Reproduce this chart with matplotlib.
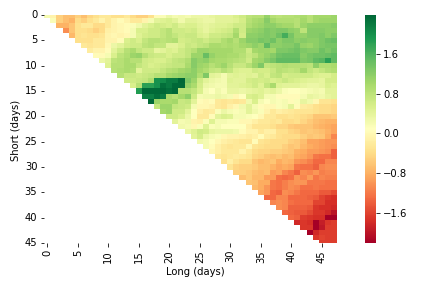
import numpy as np
import matplotlib
matplotlib.use('Agg')
import matplotlib.pyplot as plt
import seaborn as sns

# upper triangle, each row starts on the diagonal
rows = [
 [.1,-.15,-.55,-.7,-.7,-.55,-.7,-.5,-.4,-.3,-.3,-.4,-.4,-.3,-.45,-.55,-.55,-.4,-.05,.05,.2,.1,.15,.1,
  .2,.2,.2,.25,.3,.3,.3,.4,.5,.65,.7,.7,.95,.7,.65,.7,.7,.75,.8,.7,.85,.85,.85,.9],
 [.05,-.55,-.7,-.8,-.45,-.55,-.4,-.3,-.15,-.3,-.15,-.05,-.15,-.3,-.3,-.15,.1,.3,.35,.4,.3,.15,.3,
  .3,.25,.2,.2,.3,.3,.3,.35,.45,.7,.8,.85,1.05,.85,.75,.75,.75,.7,.85,.7,.85,.9,.9,.9],
 [-.8,-.8,-.65,-.4,-.3,-.3,-.45,-.45,-.3,-.15,-.1,-.05,.05,.15,.3,.4,.5,.45,.4,.5,.35,.4,
  .4,.3,.25,.3,.35,.35,.4,.5,.5,.75,.85,.9,1.0,1.0,.9,.85,.85,.7,.9,1.0,1.0,1.0,1.0,1.05],
 [-1.05,-.65,-.4,-.4,-.45,-.55,-.45,-.2,-.15,-.1,-.05,.1,.4,.4,.5,.5,.6,.7,.5,.5,.45,
  .5,.35,.25,.35,.4,.45,.5,.75,.5,.9,.95,1.0,1.1,1.05,1.1,1.1,1.0,.95,.65,1.05,1.05,1.05,1.0,1.0],
 [-.75,-.4,-.35,-.4,-.4,-.35,-.15,-.1,-.15,-.1,.1,.35,.45,.5,.5,.6,.7,.6,.5,.55,
  .55,.4,.35,.5,.5,.55,.6,.85,.45,1.0,1.0,1.05,1.1,1.05,1.2,1.45,1.15,.95,.95,1.05,1.05,1.1,1.0,1.1],
 [-.4,-.4,-.4,-.3,-.3,-.15,-.15,-.05,.4,.5,.4,.6,.7,.7,.65,.7,.75,.45,.5,
  .55,.6,.5,.6,.6,.75,.85,.7,.9,1.05,1.05,1.15,1.1,1.2,1.0,1.1,1.1,1.0,1.05,1.0,1.0,1.1,1.2,1.25],
 [-.3,-.35,-.3,-.3,-.1,.2,.3,.45,.5,.5,.65,.7,.6,.6,.3,.3,.4,.55,
  .5,.6,.65,.8,.8,.75,.8,.75,.85,.9,1.0,.9,1.3,1.0,1.0,1.05,1.05,1.15,.95,.9,1.0,1.1,1.15,1.15],
 [-.25,-.15,-.15,-.05,.3,.5,.7,.8,.6,.5,.5,.25,.3,.4,.35,.5,.6,
  .7,.9,.9,.85,.85,.85,.85,.75,.75,.5,.85,.9,.9,.85,1.1,1.1,1.15,1.2,1.1,1.05,1.05,1.2,1.1,1.2],
 [-.05,-.08,.1,.4,.65,.75,.9,.95,.7,.55,.5,.5,.4,.5,.5,.6,
  .9,.9,1.25,.95,.85,.85,.8,.8,.7,.55,.65,.85,.95,1.05,1.2,1.25,1.25,1.25,1.05,1.15,1.2,1.2,1.25,1.3],
 [.2,.3,.65,.7,.8,.7,.7,.5,.45,.4,.4,.5,.6,.65,.75,
  1.05,.95,1.0,.85,.8,.8,.75,.7,.65,.5,.85,.9,1.05,1.15,1.3,1.3,1.3,1.3,1.1,1.15,1.3,1.35,1.6,1.3],
 [.35,.7,.7,.8,.8,.6,.5,.4,.45,.5,.55,.6,.6,.8,
  1.05,.9,.85,.7,.8,.9,.7,.55,.55,.7,.9,1.1,.6,.65,.7,.75,.7,.7,.7,.65,1.0,.75,.75,.8],
 [.7,.75,.8,.75,.3,.5,.5,.5,.6,.7,.75,.85,.9,
  1.0,.85,.75,.6,.55,.7,.6,.4,.35,.35,.5,.45,.45,.55,.7,.65,.6,.65,.85,.6,.5,.6,.7,.75],
 [.7,.55,.55,.5,.55,.6,.7,.7,.85,.9,.95,1.0,
  1.0,.75,1.1,.3,.25,.1,.3,.35,.3,.35,.3,.5,.4,.6,.65,.45,.5,.5,.5,.5,.4,.35,.35,.45],
 [.5,.5,.55,.6,.75,1.75,1.8,1.95,1.95,2.15,1.1,
  .9,.5,.3,.2,.15,.1,.35,.3,.3,.45,.5,.45,.5,.4,.45,.55,.45,.4,.35,.3,.3,.25,.45,.45],
 [.4,.7,1.6,1.6,1.75,2.05,1.95,2.1,2.1,.95,
  .8,.45,.2,.15,.1,.1,.3,.3,.35,.4,.5,.35,.6,.8,.35,.3,.3,.3,.25,.2,.2,.25,.4,.35],
 [1.65,2.1,2.1,2.1,2.2,2.05,2.15,.7,.7,
  .6,.4,.1,0,.15,.05,.25,.25,.2,.25,.3,.35,.25,.3,.2,.05,0,0,.05,.1,.15,.1,.3,.3],
 [1.9,1.9,2.05,1.95,.8,.7,.85,1.0,
  .5,.1,.15,.15,.2,.15,.1,-.1,0,.4,.45,.35,.1,.1,-.05,-.05,-.05,-.05,.1,.25,.2,.15,.25,.3],
 [2.3,.9,.8,.8,.85,.55,.6,
  .3,-.05,-.1,-.05,-.3,-.35,-.3,-.35,-.3,.15,.4,.1,0,.1,.05,.1,-.05,.05,.25,.15,-.1,-.35,-.35,-.4],
 [.6,.9,.9,.6,.55,.5,
  .1,-.1,-.1,-.15,-.3,-.35,-.2,-.1,.15,.3,.1,-.05,-.1,-.1,.05,.1,.3,-.05,-.25,-.3,-.4,-.45,-.45,-.5],
 [.85,.9,.5,.5,.3,
  0,-.2,-.3,-.25,.05,.2,.1,.05,.1,.3,.15,.05,-.15,-.3,-.2,-.25,-.3,-.35,-.35,-.35,-.4,-.45,-.45,-.5],
 [.5,.5,.4,.2,
  0,-.3,-.3,-.05,.3,.4,.35,.1,.1,.05,0,-.1,-.3,-.3,-.4,-.4,-.35,-.4,-.45,-.5,-.65,-.65,-.65,-.6],
 [.3,.1,.15,
  -.15,-.2,.05,.35,.1,.1,.05,.05,-.1,-.1,-.2,-.3,-.3,-.35,-.3,-.45,-.45,-.4,-.5,-.6,-.7,-.75,-.8,-.8],
 [.15,.1,
  -.1,.05,.35,.05,.1,0,0,0,0,-.2,-.35,-.35,-.35,-.4,-.5,-.5,-.6,-.65,-.65,-.65,-.75,-.8,-.85,-.9],
 [.2,
  .35,.5,.45,.25,.2,.2,.2,.15,-.05,-.15,-.15,-.3,-.2,-.2,-.4,-.4,-.5,-.55,-.65,-.6,-.65,-.7,-.8,-.9],
 [.3,.45,.2,.1,.05,-.1,-.15,-.15,-.2,-.25,-.2,-.05,-.25,-.3,-.4,-.45,-.45,-.45,-.55,-.65,-.6,-.65,-.85,-1.1],
 [.15,.1,0,-.1,-.2,-.25,-.3,-.35,-.35,-.05,-.35,-.4,-.45,-.45,-.45,-.55,-.6,-.7,-.9,-.9,-.95,-1.0,-1.0],
 [.1,-.05,-.2,-.3,-.35,-.3,-.3,-.1,-.35,-.4,-.45,-.45,-.45,-.55,-.65,-.6,-.75,-.85,-.9,-.95,-1.0,-1.05],
 [-.1,-.2,-.3,-.3,-.3,-.15,-.3,-.45,-.5,-.5,-.55,-.55,-.6,-.65,-.8,-.85,-.95,-.95,-1.0,-1.05,-1.35],
 [-.3,-.35,-.3,-.25,-.3,-.35,-.5,-.55,-.65,-.7,-.65,-.75,-.7,-.85,-.9,-1.0,-1.2,-1.25,-1.25,-1.35],
 [-.4,-.2,-.35,-.45,-.45,-.65,-.75,-.7,-.65,-.85,-.75,-.8,-1.0,-1.05,-1.15,-1.3,-1.3,-1.1,-1.1],
 [-.35,-.5,-.55,-.55,-.6,-.7,-.7,-.8,-.9,-.85,-.9,-1.2,-1.25,-1.25,-1.35,-1.1,-1.05,-1.05],
 [-.55,-.55,-.6,-.7,-.75,-.7,-.95,-.9,-1.1,-1.2,-1.35,-1.05,-1.1,-1.0,-1.15,-1.1,-1.1],
 [-.7,-.6,-.75,-.75,-.95,-.95,-1.25,-1.3,-1.25,-1.0,-1.1,-.95,-1.2,-1.1,-1.15,-1.15],
 [-.65,-.7,-.85,-.85,-1.2,-1.25,-1.15,-1.05,-1.0,-1.0,-1.2,-1.2,-1.2,-1.25,-1.25],
 [-.75,-.85,-1.0,-1.2,-1.25,-1.15,-1.05,-1.1,-1.25,-1.25,-1.2,-1.25,-1.25,-1.25],
 [-.9,-1.0,-1.3,-1.35,-1.05,-1.1,-1.2,-1.3,-1.3,-1.3,-1.4,-1.4,-1.5],
 [-1.3,-1.3,-1.1,-1.1,-1.3,-1.3,-1.3,-1.35,-1.4,-1.55,-1.65,-1.7],
 [-1.1,-1.05,-1.1,-1.25,-1.3,-1.3,-1.3,-1.55,-1.55,-1.7,-1.7],
 [-1.05,-1.1,-1.35,-1.35,-1.35,-1.4,-1.65,-1.7,-1.7,-1.75],
 [-1.3,-1.35,-1.4,-1.4,-1.5,-1.65,-1.65,-1.75,-1.95],
 [-1.3,-1.35,-1.6,-1.65,-1.7,-1.7,-2.2,-2.2],
 [-1.75,-1.65,-1.7,-2.15,-1.85,-1.65,-1.6],
 [-1.65,-1.65,-2.2,-1.9,-1.6,-1.6],
 [-2.25,-1.75,-1.6,-1.6,-1.6],
 [-1.65,-1.55,-1.6,-1.6],
 [-1.6,-1.6,-1.6],
]
tick_labels = [0, 5, 10, 15, 20, 25, 30, 35, 40, 45]
cbar_ticks = [-1.6, -0.8, 0.0, 0.8, 1.6]
# colours were read against the middle of the colour bar, which sits at about 0.09
mid_value = 0.09
contrast = 1.08

data = np.full((46, 48), np.nan)
for r, row in enumerate(rows):
    data[r, r:r+len(row)] = np.array(row)*contrast + mid_value

W, H = 432., 288.
fig = plt.figure(figsize=(6, 4), dpi=72)
ax = fig.add_axes([44.3/W, 1-243/H, 292.7/W, 228/H])
cax = fig.add_axes([365/W, 1-243/H, 11/W, 228/H])

sns.heatmap(data, ax=ax, cbar_ax=cax, cmap='RdYlGn', vmin=-2.2, vmax=2.38,
            cbar_kws={'ticks': cbar_ticks})

ax.set_xticks(np.array(tick_labels)+0.5)
ax.set_yticks(np.array(tick_labels)+0.5)
ax.set_xticklabels(tick_labels, rotation=90)
ax.set_yticklabels(tick_labels, rotation=0)
ax.set_ylim(45.5, 0.5)  # half rows cut off top and bottom
ax.set_xlabel('Long (days)', x=0.515)
ax.set_ylabel('Short (days)', y=0.495)

fig.savefig('out.png', dpi=72)
